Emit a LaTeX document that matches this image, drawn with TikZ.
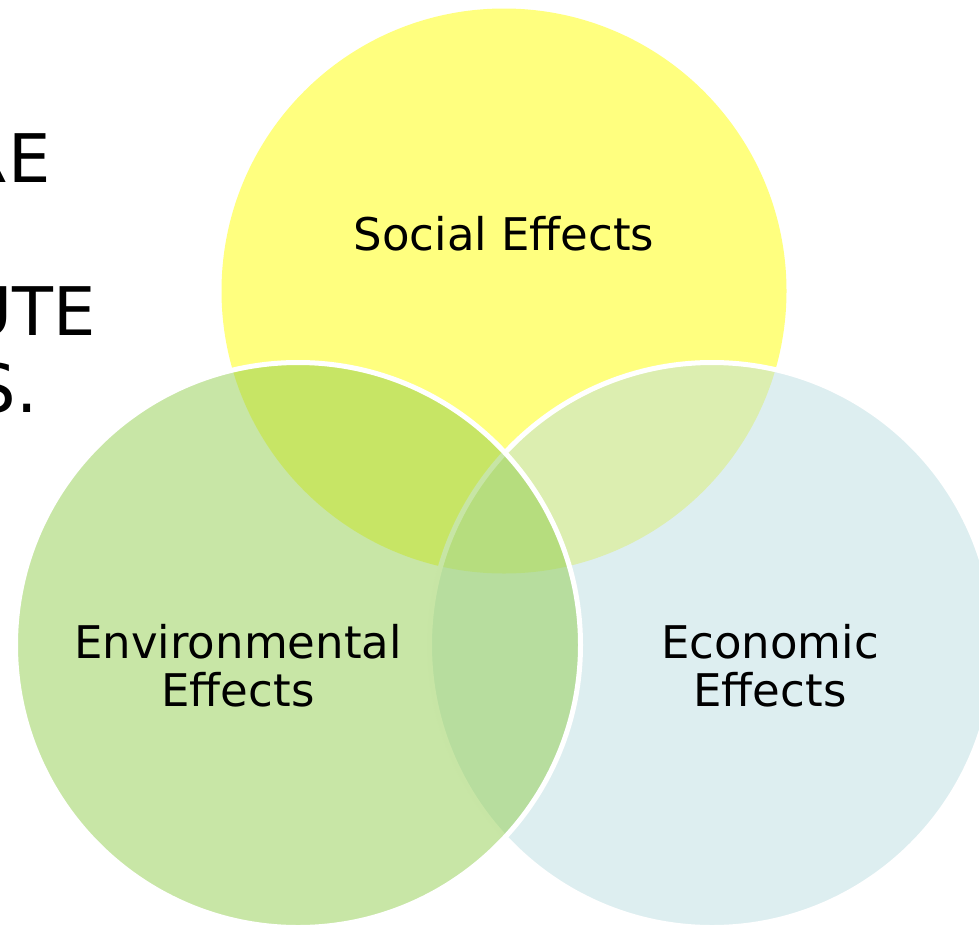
\documentclass[tikz,border=0pt]{standalone}
\usepackage{fontspec}
\setmainfont{DejaVu Sans}
\usepackage{tikz}
\usetikzlibrary{
  positioning,
  shapes,
}
\tikzstyle{venncircle} = [
  circle,
  minimum size=565,
  inner sep=0pt,
  draw=white,
  line width=5pt,
  fill opacity=0.5,
]
\tikzstyle{venntext} = [
  align=center,
  font=\fontsize{45}{48}\selectfont,
  text=black,
]
\tikzstyle{slidetext} = [
  anchor=base east,
  inner sep=0pt,
  font=\fontsize{67}{77}\selectfont,
  text=black,
]
\definecolor{socialyellow}{RGB}{255, 255, 0}
\definecolor{envgreen}{RGB}{145, 205, 77}
\definecolor{econblue}{RGB}{187, 221, 225}

\begin{document}
\begin{tikzpicture}[x=1pt,y=-1pt]

        \useasboundingbox (0,0) rectangle (979,929);
        \clip (0,0) rectangle (979,929);

        \node[slidetext] (lineA) at (51,182)  {RE};
        \node[slidetext] (lineB) at (96,335)  {UTE};
        \node[slidetext] (lineC) at (38,412)  {S.};

        \node[venncircle,fill=socialyellow,draw=none] (social) at (504,291) {};
        \node[venncircle,fill=econblue] (economic) at (712,645) {};
        \node[venncircle,fill=envgreen] (environmental) at (298,645) {};

        \node[venntext] (socialtxt)        at (504,234) {Social Effects};
        \node[venntext] (environmentaltxt) at (238,666) {Environmental\\Effects};
        \node[venntext] (economictxt)      at (770,666) {Economic\\Effects};

      \end{tikzpicture}
\end{document}
